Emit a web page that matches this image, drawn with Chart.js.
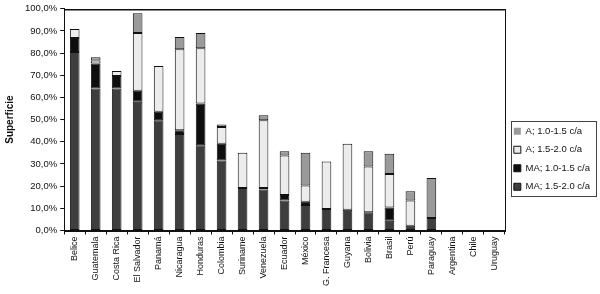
<!DOCTYPE html>
<html>
<head>
<meta charset="utf-8">
<script src="https://cdn.jsdelivr.net/npm/chart.js@4/dist/chart.umd.min.js"></script>
<style>
  html, body { margin: 0; padding: 0; background: #fff; }
  #wrap { width: 600px; height: 294px; position: relative; }
</style>
</head>
<body>
<div id="wrap"><canvas id="chart"></canvas></div>
<script>
const countries = ['Belice', 'Guatemala', 'Costa Rica', 'El Salvador', 'Panamá', 'Nicaragua', 'Honduras',
    'Colombia', 'Suriname', 'Venezuela', 'Ecuador', 'México', 'G. Francesa', 'Guyana', 'Bolivia', 'Brasil',
    'Perú', 'Paraguay', 'Argentina', 'Chile', 'Uruguay']

// percentages of area, stacked bottom to top
const ma15 = [80.5, 64, 64, 58, 49.7, 43.5, 38.4, 31.6, 19.2, 18.5, 13.5, 11.5, 9.7, 9.4, 8.2, 4.4, 2.1, 5.6, 0, 0, 0]
const ma10 = [6.3, 11.3, 5.6, 5, 3.8, 1.7, 18.9, 7.5, 0, 0.7, 2.5, 1.5, 0, 0, 0, 6, 0, 0, 0, 0, 0]
const a15 = [4, 1.3, 2.3, 26, 20.7, 36.5, 24.9, 7.6, 15.9, 30.5, 17.8, 7.3, 21.4, 29.7, 20.7, 15.1, 11.4, 0, 0, 0, 0]
const a10 = [0, 1.5, 0, 9, 0, 5.5, 6.8, 1.1, 0, 2.3, 1.9, 14.8, 0, 0, 6.8, 9.1, 4.2, 18.1, 0, 0, 0]

const seriesNames = ['MA; 1.5-2.0 c/a', 'MA; 1.0-1.5 c/a', 'A; 1.5-2.0 c/a', 'A; 1.0-1.5 c/a']
const seriesColors = ['#3e3e3e', '#0e0e0e', '#ececec', '#9a9a9a']

const yMax = 100
const yStep = 10

const fontFamily = '"Liberation Sans", Arial, sans-serif'

function makeSet(i, values) {
    return {
        label: seriesNames[i],
        data: values,
        backgroundColor: seriesColors[i],
        borderColor: '#111',
        borderWidth: c => (c.raw > 0 || c.type !== 'data') ? 1 : 0,
        borderSkipped: false,
        categoryPercentage: 1,
        barPercentage: 0.46
    }
}

// box around plot area and legend
const framePlugin = {
    id: 'frame',
    afterDraw(chart) {
        const ctx = chart.ctx
        const a = chart.chartArea
        ctx.save()
        ctx.strokeStyle = '#111'
        ctx.lineWidth = 1
        ctx.strokeRect(Math.round(a.left) + 0.5, Math.round(a.top) + 0.5,
            Math.round(a.right - a.left), Math.round(a.bottom - a.top))
        // top edge is a bit heavier in the scan
        ctx.beginPath()
        ctx.moveTo(a.left, Math.round(a.top) + 1)
        ctx.lineTo(a.right, Math.round(a.top) + 1)
        ctx.stroke()
        const lg = chart.legend
        if (lg && lg.legendHitBoxes.length) {
            const boxes = lg.legendHitBoxes
            const x0 = Math.min(...boxes.map(b => b.left)) - 3
            const x1 = Math.max(...boxes.map(b => b.left + b.width)) + 6
            const y0 = Math.min(...boxes.map(b => b.top)) - 6
            const y1 = Math.max(...boxes.map(b => b.top + b.height)) + 4
            ctx.lineWidth = 1
            ctx.strokeStyle = '#444'
            ctx.strokeRect(Math.round(x0) + 0.5, Math.round(y0) + 0.5, Math.round(x1 - x0), Math.round(y1 - y0))
        }
        ctx.restore()
    }
}

Chart.defaults.font.family = fontFamily
Chart.defaults.color = '#111'

new Chart(document.getElementById('chart'), {
    type: 'bar',
    data: {
        labels: countries,
        datasets: [makeSet(0, ma15), makeSet(1, ma10), makeSet(2, a15), makeSet(3, a10)]
    },
    options: {
        responsive: true,
        maintainAspectRatio: false,
        animation: false,
        devicePixelRatio: 1,
        layout: { padding: { top: 8, right: 0, left: 4, bottom: 6 } },
        plugins: {
            legend: {
                position: 'right',
                reverse: true,
                // empty title only pushes the entries down a little
                title: { display: true, text: ' ', font: { size: 10 }, padding: { top: 10, bottom: 0 } },
                labels: {
                    boxWidth: 7,
                    boxHeight: 7,
                    padding: 9,
                    font: { size: 9.5 },
                    color: '#111'
                }
            },
            tooltip: { enabled: false }
        },
        scales: {
            x: {
                stacked: true,
                grid: { display: true, drawOnChartArea: false, offset: true, tickLength: 4, color: '#111' },
                border: { color: '#111' },
                ticks: { minRotation: 90, maxRotation: 90, autoSkip: false, padding: 2, font: { size: 9 }, color: '#111' }
            },
            y: {
                stacked: true,
                min: 0,
                max: yMax,
                grid: { display: true, drawOnChartArea: false, tickLength: 4, color: '#111' },
                border: { color: '#111' },
                ticks: {
                    stepSize: yStep,
                    padding: 3,
                    font: { size: 9.5 },
                    color: '#111',
                    callback: v => v.toFixed(1).replace('.', ',') + '%'
                },
                title: {
                    display: true,
                    text: 'Superficie',
                    font: { size: 10, weight: 'bold' },
                    color: '#111',
                    padding: { top: 0, bottom: 6 }
                }
            }
        }
    },
    plugins: [framePlugin]
})
</script>
</body>
</html>
